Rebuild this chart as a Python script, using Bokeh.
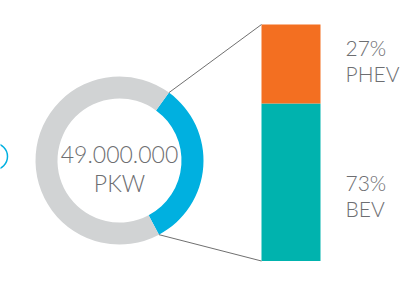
import math
from bokeh.plotting import figure
from bokeh.models import Range1d, GlobalInlineStyleSheet
from bokeh.core.properties import value
from bokeh.embed import file_html
from bokeh.resources import INLINE

# ---- data ----
donut_labels = ["Elektro", "Rest"]
donut_values = [32.2, 67.8]          # share of ring (blue, grey)
donut_start_deg = -62.0
center_lines = ["49.000.000", "PKW"]
bar_categories = ["BEV", "PHEV"]
bar_values = [66.6, 33.4]            # drawn heights as seen
bar_labels = ["73%", "27%"]

# ---- style ----
W, H = 411, 283
GREY = "#d1d3d4"
BLUE = "#00b0e0"
ORANGE = "#f36f21"
TEAL = "#00b3ae"
TEXT = "#6d6e71"
FONT = value("Lato Light")

p = figure(width=W, height=H, output_backend="svg", toolbar_location=None,
           x_range=Range1d(0, W), y_range=Range1d(0, H), min_border=0)
p.axis.visible = False
p.grid.visible = False
p.outline_line_color = None
p.background_fill_color = "white"
p.border_fill_color = "white"
p.stylesheets = [GlobalInlineStyleSheet(css="body{margin:0;overflow:hidden}")]

cx, cy = 119, 123
r_in, r_out = 62, 84
total = sum(donut_values)
angles = []
a = math.radians(donut_start_deg)
for v in donut_values:
    b = a + 2 * math.pi * v / total
    angles.append((a, b))
    a = b
colors = [BLUE, GREY]
for (a0, a1), c in zip(angles, colors):
    p.annular_wedge(x=cx, y=cy, inner_radius=r_in, outer_radius=r_out,
                    start_angle=a0, end_angle=a1, color=c, line_color=None)

# center text
p.text(x=[cx, cx], y=[cy + 6, cy - 22], text=center_lines, text_align="center",
       text_baseline="middle", text_font=FONT, text_font_size="23px",
       text_color=TEXT)

# bar
bx0, bx1 = 261, 320
by0, by1 = 22.5, 259
scale = (by1 - by0) / sum(bar_values)
bottoms = []
y = by0
for v in bar_values:
    bottoms.append(y)
    y += v * scale
tops = [b + v * scale for b, v in zip(bottoms, bar_values)]
p.quad(left=bx0, right=bx1, bottom=bottoms, top=tops, color=[TEAL, ORANGE],
       line_color=None)

# connector lines
a_top = angles[0][1]
a_bot = angles[0][0]
p.segment(x0=[cx + r_out * math.cos(a_top), cx + r_out * math.cos(a_bot)],
          y0=[cy + r_out * math.sin(a_top), cy + r_out * math.sin(a_bot)],
          x1=[bx0, bx0], y1=[by1, by0], line_color="#707070", line_width=1)

# bar labels
lx = 345
pct_y = [101, 236]
name_y = [75, 210]
p.text(x=[lx, lx], y=pct_y, text=bar_labels, text_align="left",
       text_baseline="middle", text_font=FONT, text_font_size="21px",
       text_color=TEXT)
p.text(x=[lx, lx], y=name_y, text=bar_categories, text_align="left",
       text_baseline="middle", text_font=FONT, text_font_size="21px",
       text_color=TEXT)

# partial circle at left edge
p.circle(x=[-6], y=[H - 156], radius=13, fill_color=None, line_color=BLUE,
         line_width=1.5)

open("out.html", "w").write(file_html(p, INLINE))
